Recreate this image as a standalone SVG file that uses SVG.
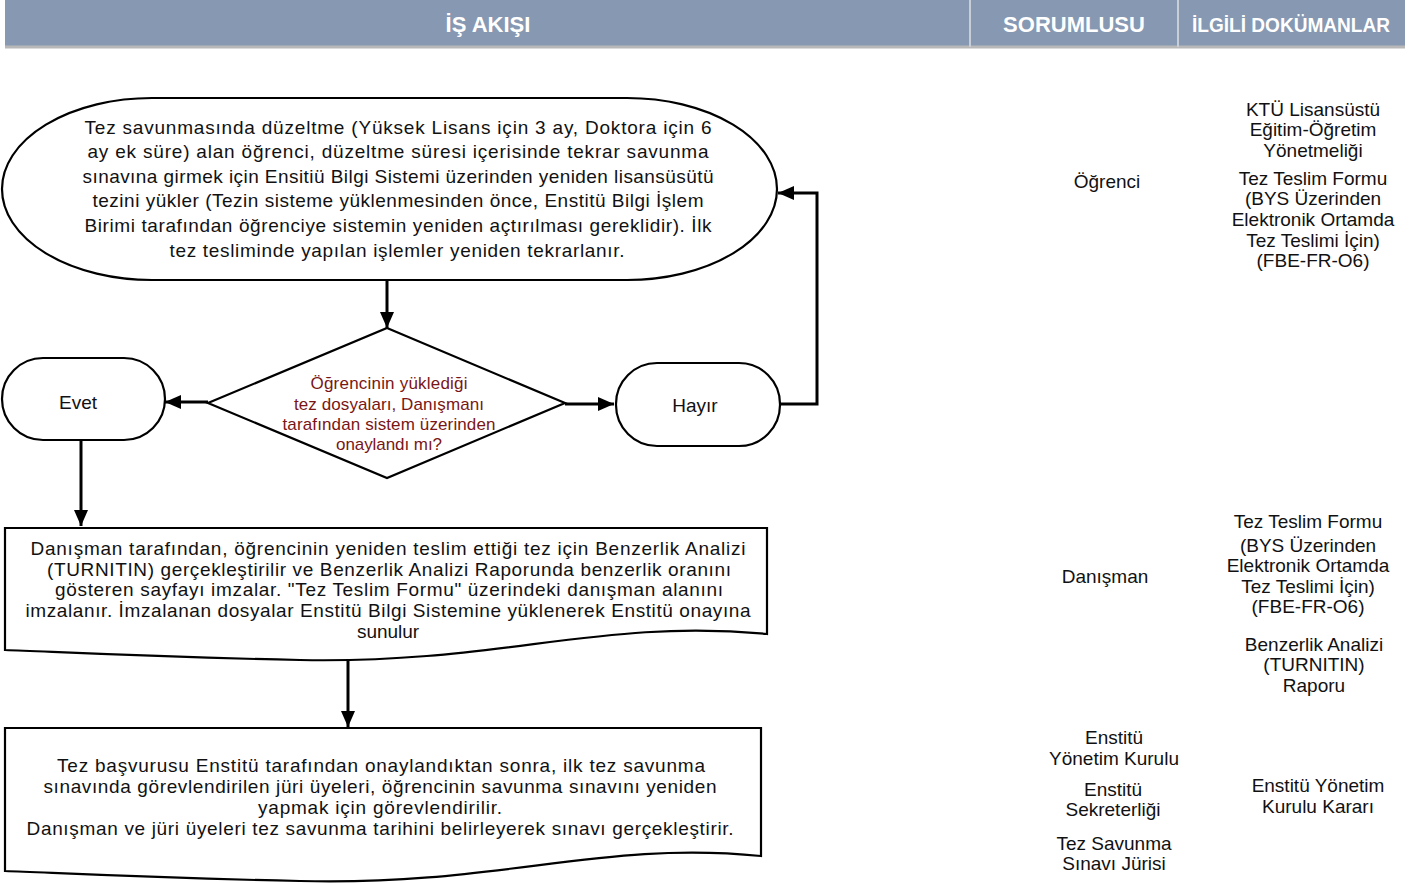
<svg xmlns="http://www.w3.org/2000/svg" width="1413" height="883" viewBox="0 0 1413 883">
<defs>
<marker id="ah" markerUnits="userSpaceOnUse" markerWidth="16" markerHeight="14" refX="16" refY="7" orient="auto"><path d="M0,0 L16,7 L0,14 z" fill="#000"/></marker>
<style>
.hd{font-family:"Liberation Sans",Arial,sans-serif;font-weight:bold;font-size:22px;fill:#fff;text-anchor:middle}
.t{font-family:"Liberation Sans",Arial,sans-serif;font-size:19px;fill:#111;text-anchor:middle}
.q{font-family:"Liberation Sans",Arial,sans-serif;font-size:17px;fill:#7a1616;text-anchor:middle}
.s{fill:#fff;stroke:#000;stroke-width:2.2}
.c{fill:none;stroke:#000;stroke-width:3;marker-end:url(#ah)}
</style>
</defs>
<g id="header">
<rect x="5" y="0" width="1400" height="47" fill="#8698b2"/>
<line x1="5" y1="47" x2="1405" y2="47" stroke="#b8b8b8" stroke-width="3"/>
<line x1="970" y1="0" x2="970" y2="47" stroke="#c9ced6" stroke-width="2"/>
<line x1="1178" y1="0" x2="1178" y2="47" stroke="#c9ced6" stroke-width="2"/>
<text class="hd" x="488" y="32">İŞ AKIŞI</text>
<text class="hd" x="1074" y="32">SORUMLUSU</text>
<text class="hd" x="1291" y="32" style="font-size:20px" textLength="198" lengthAdjust="spacingAndGlyphs">İLGİLİ DOKÜMANLAR</text>
</g>
<g id="connectors">
<path class="c" d="M387,281 V328"/>
<path class="c" d="M208,402 H165"/>
<path class="c" d="M565,404 H614"/>
<path class="c" d="M780,404 H817 V193 H778"/>
<path class="c" d="M81,441 V526"/>
<path class="c" d="M348,658 V727"/>
</g>
<g id="start">
<rect class="s" x="2" y="98" width="775" height="182" rx="150" ry="91"/>
<text class="t" x="398" y="134" textLength="627" lengthAdjust="spacing">Tez savunmasında düzeltme (Yüksek Lisans için 3 ay, Doktora için 6</text>
<text class="t" x="398" y="158" textLength="621" lengthAdjust="spacing">ay ek süre) alan öğrenci, düzeltme süresi içerisinde tekrar savunma</text>
<text class="t" x="398" y="183" textLength="631" lengthAdjust="spacing">sınavına girmek için Ensitiü Bilgi Sistemi üzerinden yeniden lisansüsütü</text>
<text class="t" x="398" y="207" textLength="611" lengthAdjust="spacing">tezini yükler (Tezin sisteme yüklenmesinden önce, Enstitü Bilgi İşlem</text>
<text class="t" x="398" y="232" textLength="627" lengthAdjust="spacing">Birimi tarafından öğrenciye sistemin yeniden açtırılması gereklidir). İlk</text>
<text class="t" x="397" y="257" textLength="455" lengthAdjust="spacing">tez tesliminde yapılan işlemler yeniden tekrarlanır.</text>
</g>
<g id="decision">
<polygon class="s" points="387,328 565,403 387,478 208,403"/>
<text class="q" x="389" y="389" textLength="157" lengthAdjust="spacing">Öğrencinin yüklediği</text>
<text class="q" x="389" y="410" textLength="190" lengthAdjust="spacing">tez dosyaları, Danışmanı</text>
<text class="q" x="389" y="430" textLength="213" lengthAdjust="spacing">tarafından sistem üzerinden</text>
<text class="q" x="389" y="450" textLength="106" lengthAdjust="spacing">onaylandı mı?</text>
</g>
<g id="evet">
<rect class="s" x="2" y="358" width="163" height="82" rx="41"/>
<text class="t" x="78" y="409">Evet</text>
</g>
<g id="hayir">
<rect class="s" x="616" y="363" width="164" height="83" rx="41"/>
<text class="t" x="695" y="412">Hayır</text>
</g>
<g id="doc1">
<path class="s" d="M5,528 H767 V634 C600,618 500,664 300,660 C150,657 60,652 5,650 Z"/>
<text class="t" x="388" y="555" textLength="715" lengthAdjust="spacing">Danışman tarafından, öğrencinin yeniden teslim ettiği tez için Benzerlik Analizi</text>
<text class="t" x="389" y="576" textLength="684" lengthAdjust="spacing">(TURNITIN) gerçekleştirilir ve Benzerlik Analizi Raporunda benzerlik oranını</text>
<text class="t" x="389" y="596" textLength="668" lengthAdjust="spacing">gösteren sayfayı imzalar. "Tez Teslim Formu" üzerindeki danışman alanını</text>
<text class="t" x="388" y="617" textLength="725" lengthAdjust="spacing">imzalanır. İmzalanan dosyalar Enstitü Bilgi Sistemine yüklenerek Enstitü onayına</text>
<text class="t" x="388" y="638" textLength="62" lengthAdjust="spacing">sunulur</text>
</g>
<g id="doc2">
<path class="s" d="M5,728 H761 V856 C600,840 500,886 300,881 C150,878 60,873 5,871 Z"/>
<text class="t" x="381" y="772" textLength="648" lengthAdjust="spacing">Tez başvurusu Enstitü tarafından onaylandıktan sonra, ilk tez savunma</text>
<text class="t" x="380" y="793" textLength="673" lengthAdjust="spacing">sınavında görevlendirilen jüri üyeleri, öğrencinin savunma sınavını yeniden</text>
<text class="t" x="380" y="814" textLength="244" lengthAdjust="spacing">yapmak için görevlendirilir.</text>
<text class="t" x="380" y="835" textLength="707" lengthAdjust="spacing">Danışman ve jüri üyeleri tez savunma tarihini belirleyerek sınavı gerçekleştirir.</text>
</g>
<g id="responsible">
<text class="t" x="1107" y="188">Öğrenci</text>
<text class="t" x="1105" y="583">Danışman</text>
<text class="t" x="1114" y="744">Enstitü</text>
<text class="t" x="1114" y="765">Yönetim Kurulu</text>
<text class="t" x="1113" y="796">Enstitü</text>
<text class="t" x="1113" y="816">Sekreterliği</text>
<text class="t" x="1114" y="850">Tez Savunma</text>
<text class="t" x="1114" y="870">Sınavı Jürisi</text>
</g>
<g id="documents">
<text class="t" x="1313" y="116">KTÜ Lisansüstü</text>
<text class="t" x="1313" y="136">Eğitim-Öğretim</text>
<text class="t" x="1313" y="157">Yönetmeliği</text>
<text class="t" x="1313" y="185">Tez Teslim Formu</text>
<text class="t" x="1313" y="205">(BYS Üzerinden</text>
<text class="t" x="1313" y="226">Elektronik Ortamda</text>
<text class="t" x="1313" y="247">Tez Teslimi İçin)</text>
<text class="t" x="1313" y="267">(FBE-FR-O6)</text>
<text class="t" x="1308" y="528">Tez Teslim Formu</text>
<text class="t" x="1308" y="552">(BYS Üzerinden</text>
<text class="t" x="1308" y="572">Elektronik Ortamda</text>
<text class="t" x="1308" y="593">Tez Teslimi İçin)</text>
<text class="t" x="1308" y="613">(FBE-FR-O6)</text>
<text class="t" x="1314" y="651">Benzerlik Analizi</text>
<text class="t" x="1314" y="671">(TURNITIN)</text>
<text class="t" x="1314" y="692">Raporu</text>
<text class="t" x="1318" y="792">Enstitü Yönetim</text>
<text class="t" x="1318" y="813">Kurulu Kararı</text>
</g>
</svg>
